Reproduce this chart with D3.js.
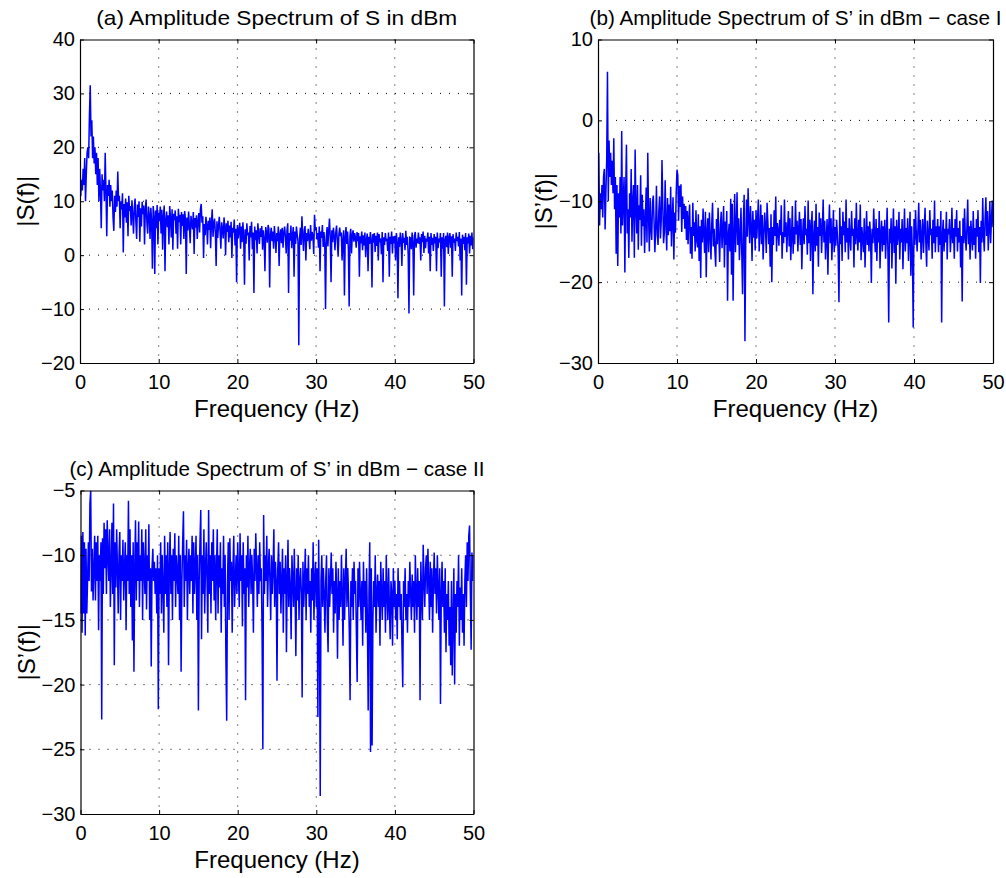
<!DOCTYPE html>
<html>
<head>
<meta charset="utf-8">
<script src="https://cdn.jsdelivr.net/npm/d3@7"></script>
<style>
  body { margin: 0; background: #fff; }
  text { font-family: "Liberation Sans", Arial, Helvetica, sans-serif; fill: #000; }
</style>
</head>
<body>
<svg id="chart" width="1006" height="878"></svg>
<script>
// spectrum bins, 0.1 Hz apart, 0..50 Hz
var binStep = 0.1;
var xTicks = [0, 10, 20, 30, 40, 50];
var yTicksA = [-20, -10, 0, 10, 20, 30, 40];
var yTicksB = [-30, -20, -10, 0, 10];
var yTicksC = [-30, -25, -20, -15, -10, -5];

// (a) |S(f)| in dBm
var specA = [
  17,11,14,12,16,13,18,10,15,19,
  20,18,26,31.5,22,25,18,22,17,20,
  15,19,13,18,10,16,12,5,15,12,
  14,10,19,12,3.5,13,11,14,9,13,
  10,12,7,4.5,11,8,12,9,15.5,10,
  11,5,10,8.5,11.5,0.5,9.5,7,10.5,6,
  9.8,3.5,11,8.2,9.1,5.5,10.2,7.3,4,8.8,
  10.5,6.2,3,9.4,7.1,10,2.5,8.7,5.3,9.9,
  7.6,9.2,2,8.4,10.3,6.1,4,9,7.5,3,
  8.8,6.4,-2.5,9.1,7.2,-3.5,8.3,5,9.3,2,
  7.9,6.3,9,4,8.4,1,7.1,9.2,-3,6.6,
  8.1,5.2,7.4,2,9.1,6.8,3.3,8.5,1,7.7,
  6.5,8.3,4,7.2,1.2,8.6,6.1,7.5,2,8,
  5.4,7.6,3,8.2,6.7,-3.5,7,4.6,8.1,5.5,
  2.2,7.3,6,4.8,8,0.2,6.9,5.1,7.4,3,
  6.3,7.8,4.2,8.5,9.5,6,7.2,-0.5,5.8,3.7,
  7.1,5.6,2,6.4,4.7,7,1.3,6.1,8.5,3.4,
  5.9,6.8,4.1,-2,6.3,3.2,5.5,7.1,4.4,1.2,
  6.1,4.8,3.1,7,5.2,0,5.9,4.3,6.4,2.4,
  5.5,3.3,6.2,-0.5,5.1,4.2,6.6,1.8,4.9,-5,
  5.6,3.1,4.7,6,1.2,5.3,2.4,6.1,3.6,-5.5,
  4.8,2.1,5.9,3.7,4.2,-1,5.4,3.3,6.2,1.1,
  4.2,-7,5.3,2.8,4.6,0.3,5.9,3.9,2.1,5,
  3.4,5.4,1,4.6,3.1,-3,5.2,4.2,2.3,5.6,
  4.9,-6,3.8,5.1,2.6,4.4,1.2,5.4,3.5,0.4,
  4.1,2.6,5.3,-2,3.9,4.8,2.2,5.1,1.4,4.2,
  5.3,3.4,0.3,4.5,5.9,-7,4.1,2.7,5.5,1.3,
  3.6,5.2,-4,4.4,2.1,5.3,3.8,2.5,-16.7,3.1,
  5.1,1.9,7.2,3.6,0.8,4.7,5.4,-1,4.1,2.6,
  4.9,3.2,1.1,5.6,2.7,4.3,3.5,0.2,7.5,4.6,
  5.2,2.9,4.1,1.4,5.3,-3,4.4,3.2,5.6,1.5,
  4.3,2.1,-10,3.4,5.2,1.6,4.5,6.8,3.3,-5,
  4.6,2.4,5.1,3.6,0.9,4.2,5.5,2.7,-0.3,3.9,
  5.1,3.5,4.2,-1,2.8,4.6,-7.5,3.3,5.2,2.1,
  4.4,1.2,-9.5,3.6,4.9,0.3,3.8,4.6,2.5,4.1,
  3.2,1.4,4.3,2.6,4.1,-4,3.5,2.2,4.4,0.9,
  3.7,1.8,4.2,-0.4,2.9,4,-3,3.4,2.1,4.3,
  2.8,-6,3.9,2.3,4.1,0.6,3.6,1.7,4.2,-1,
  3.9,2.4,3.1,0.2,4.3,-5,3.3,1.9,4.1,2.6,
  3.1,0.8,4.2,-4,3.4,2.1,4.4,0.3,3.5,2.2,
  3.6,-1,4.1,2.4,-8,3.3,1.5,4.2,2.8,-2,
  4.1,2.3,3.2,0.9,4.5,1.9,3.4,0.2,-10.8,3.3,
  3.2,1.1,4.2,2.5,-7.5,3.6,4.3,1.4,3.1,2.2,
  4.2,2.1,3.3,-1,3.9,2.4,4.4,0.4,3.6,1.3,
  3.1,2.5,4.2,0.3,3.4,-3,4.1,1.9,3.2,0.8,
  3.9,2.2,3.4,-3,4.2,1.3,3.1,2.4,4.1,-4,
  3.3,1.2,4.1,-9.5,2.9,3.6,1.5,4.2,0.2,3.3,
  4.1,1.4,3.5,-4,3.9,2.3,3.1,0.8,4.2,2.6,
  3.4,1.6,4.3,-1,3.1,-7.5,3.8,2.1,3.4,0.9,
  4.1,-5.5,3.3,2.2,4,0.3,3.6,1.8,4.2,1.1,
  3.3
];

// (b) |S'(f)| case I
var specB = [
  -15,-4,-13,-9,-11,-8,-12,-7,-6,-13.5,
  -9,-5,6,-10,-2.5,-7,-4,-8,-5,-9,
  -2.2,-11,-7,-16.5,-8,-18,-9,-12,-7,-14,
  -1.3,-13,-10,-7,-18.8,-9,-3,-14,-11,-17,
  -9,-12,-6,-15,-10,-8,-17,-3.6,-11,-14,
  -8,-16,-10.5,-12.3,-6.8,-15.5,-9.2,-13.1,-11,-16.4,
  -12.2,-8.3,-15.1,-4,-11.8,-16.2,-9.6,-13.4,-14.8,-10.1,
  -9.3,-12.7,-16.3,-13.2,-8.1,-14.1,-15.4,-11.2,-9.4,-14.6,
  -12.5,-4.9,-10.3,-15.2,-13.8,-7.4,-12.9,-16.1,-9.6,-14.2,
  -10.4,-13.7,-8.2,-15.6,-12.1,-9.5,-17.2,-11.4,-13.9,-8.9,
  -6.1,-6.8,-12.4,-8.1,-10.7,-7.9,-13.8,-9.4,-12.2,-10.3,
  -13.4,-10.6,-14.8,-11.2,-15.3,-12.1,-10.4,-16.5,-13.2,-17.1,
  -10.2,-14.3,-12.6,-16.2,-11.1,-14.8,-15.7,-11.6,-17.4,-13.1,
  -19.5,-12.3,-15.1,-10.9,-14.2,-16.4,-11.3,-19.4,-13.8,-12.1,
  -16.3,-11.4,-14.1,-17.2,-12.8,-10.2,-15.6,-13.4,-16.2,-18.1,
  -12.2,-15.3,-10.8,-14.4,-17.5,-12.9,-11.3,-15.8,-13.5,-10.6,
  -18.2,-12.5,-15.4,-11.2,-22.3,-14.1,-12.8,-16.2,-9.7,-19.1,
  -10.3,-22.3,-14.4,-9.1,-16.3,-13.2,-8.9,-15.4,-12.1,-17.3,
  -14.2,-10.8,-16.5,-21.5,-12.7,-9.2,-27.3,-15.1,-9.8,-14.4,
  -8.4,-12.3,-15.2,-10.6,-13.1,-17.4,-11.2,-14.5,-12.3,-16.1,
  -11.1,-14.6,-12.2,-9.8,-16.2,-13.5,-10.4,-15.3,-11.7,-17.2,
  -14.1,-11.4,-13.2,-16.4,-10.2,-12.5,-15.3,-13.3,-18.1,-11.6,
  -20,-13.2,-15.4,-11.1,-14.3,-9.4,-16.2,-12.7,-13.6,-15.5,
  -12.3,-14.2,-10.5,-17.1,-13.8,-15.2,-9.8,-14.4,-12.6,-16.3,
  -13.4,-11.2,-15.6,-12.1,-17.3,-14.4,-10.6,-16.5,-13.2,-15.3,
  -9.9,-14.1,-12.4,-16.2,-13.5,-11.3,-15.4,-12.2,-18.4,-14.3,
  -12.1,-15.3,-10.6,-14.2,-13.4,-16.6,-9.9,-15.2,-12.3,-17.4,
  -13.1,-11.2,-21.5,-14.3,-12.4,-16.2,-10.3,-15.5,-13.2,-18.1,
  -11.4,-14.3,-12.1,-16.4,-13.6,-9.8,-15.1,-12.4,-17.2,-14.5,
  -12.2,-19.1,-13.4,-10.4,-15.2,-12.1,-17.3,-14.2,-11.1,-16.3,
  -13.2,-15.5,-12.3,-14.1,-16.2,-22.5,-10.8,-15.3,-13.1,-17.4,
  -11.3,-14.2,-12.5,-16.3,-9.8,-15.1,-13.3,-17.2,-12.1,-14.4,
  -16.1,-11.2,-14.3,-13.4,-18.2,-12.1,-15.3,-10.2,-14.4,-16.1,
  -12.3,-15.1,-10.4,-17.3,-13.2,-14.5,-16.3,-12.1,-18.2,-14.4,
  -11.2,-15.4,-13.1,-16.2,-12.5,-14.3,-20.1,-13.4,-15.2,-10.9,
  -14.1,-16.3,-12.2,-17.4,-13.3,-15.1,-11.2,-18.3,-14.1,-12.4,
  -16.2,-13.1,-15.4,-12.3,-17.1,-14.2,-10.8,-16.3,-25,-13.4,
  -15.2,-12.1,-18.3,-14.2,-10.9,-16.4,-13.1,-20.2,-12.3,-15.4,
  -14.2,-11.3,-17.2,-13.4,-15.1,-12.2,-18.4,-14.3,-10.9,-16.2,
  -13.3,-15.2,-12.1,-17.4,-14.2,-11.3,-19.2,-13.1,-16.4,-25.6,
  -12.2,-15.4,-11.1,-14.3,-16.2,-13.4,-10.2,-15.1,-12.3,-17.2,
  -14.1,-12.2,-16.4,-13.3,-10.8,-15.2,-18.1,-12.4,-14.3,-16.1,
  -11.1,-14.2,-13.4,-17.1,-12.3,-15.2,-9.9,-16.3,-13.1,-14.4,
  -12.2,-16.3,-13.1,-15.4,-11.2,-25,-14.1,-12.3,-16.2,-13.4,
  -15.1,-11.3,-17.2,-13.4,-14.1,-12.2,-16.3,-14.4,-10.8,-15.2,
  -13.3,-17.1,-12.2,-14.4,-11.1,-16.2,-13.3,-15.1,-12.4,-18.2,
  -14.3,-22.4,-12.1,-15.2,-10.9,-14.4,-16.1,-13.2,-9.8,-15.3,
  -13.1,-17.2,-12.4,-14.3,-16.1,-11.2,-15.4,-13.3,-17.1,-12.2,
  -14.4,-11.1,-16.3,-13.2,-20.1,-12.4,-15.1,-9.6,-14.3,-16.2,
  -12.1,-9.5,-14.3,-11.2,-16.1,-13.4,-10.1,-15.2,-12.3,-9.9,
  -13.2
];

// (c) |S'(f)| case II
var specC = [
  -14.5,-8.5,-16,-8.2,-14.5,-9,-16.2,-9.5,-14.5,-12,
  -9,-12,-6,-5,-12.8,-9.5,-13.5,-11,-8.5,-13.5,
  -9,-12,-8.5,-15.8,-10,-12,-9,-22.7,-8.7,-13,
  -7.5,-11,-8,-13,-7.3,-10,-12,-8,-14,-11,
  -7.5,-13,-6,-18.5,-9,-12.5,-8,-11,-14.5,-10,
  -8.2,-15,-10,-12,-8.8,-13.5,-11,-9,-15.8,-10,
  -12,-5.8,-13,-8,-14,-10,-16.6,-9,-19,-11,
  -7.3,-13.5,-9,-12,-7.4,-14,-10,-12,-8,-15,
  -9,-11,-13,-8,-14.2,-10,-12,-7.6,-15,-11,
  -18.6,-11,-9.5,-12,-10.5,-13,-11,-14.5,-10,-21.9,
  -11,-13,-9,-14.5,-10,-12.5,-16,-8.5,-13,-10,
  -14,-9,-18.5,-11,-8.2,-13,-10,-15,-9.5,-12,
  -8.3,-14,-10,-11.5,-13,-8.5,-15,-10,-19,-12,
  -9,-6.6,-14,-10,-12,-8.8,-15,-11,-9.5,-13,
  -10,-12,-8.5,-14.5,-9,-13,-11,-8.5,-15,-10,
  -22,-12,-9,-6.5,-16.5,-10,-13,-8,-14.5,-11,
  -9,-12,-16,-6.5,-13,-10,-14.5,-9,-12,-8,
  -13.5,-10,-15,-11,-8,-14.5,-10,-12.5,-9,-16,
  -11,-13,-8.5,-14,-10,-18,-22.8,-12,-9,-15,
  -8.7,-12,-10.5,-16,-11,-8.5,-14,-12,-10,-13,
  -9,-11.5,-14,-8.3,-12,-10,-15.5,-9,-13,-11,
  -21.2,-10,-12.5,-8.5,-14,-11,-9.5,-13,-10,-12,
  -16,-9.5,-12,-8.3,-11,-14,-10,-13,-9,-12,
  -11,-16,-25,-6.9,-13,-10,-12,-8.5,-14,-11,
  -9.5,-12,-15,-10,-13,-11,-8,-14,-10.5,-12,
  -19.7,-11,-9,-13,-10.5,-14.5,-12,-9.5,-16,-11,
  -13,-10,-17.5,-12,-8.8,-14,-11,-12.5,-16.5,-10,
  -12,-14,-9.5,-13,-17.8,-11,-13.5,-10,-15,-12,
  -11,-13,-21,-10.5,-14,-12,-9.5,-15,-11,-13,
  -10,-14,-12,-16,-11,-13.5,-9,-15,-12,-10.5,
  -14,-11,-22.5,-8.8,-15,-28.6,-12,-10,-14,-11,
  -13,-16,-12,-10,-15,-17.5,-11,-14,-12,-9.8,
  -13,-11,-16,-12,-14.5,-10.5,-13,-18,-11,-15,
  -12,-14,-10,-13,-17,-11,-15,-12,-9.5,-14,
  -11,-13,-16,-21.2,-12,-14,-11,-15,-10.5,-13,
  -12,-16,-19.8,-11,-14,-10.5,-13,-15,-12,-17,
  -10.5,-14,-12,-16,-11,-15,-22,-13,-9,-25.2,
  -11,-24.7,-15,-12,-14,-10,-16,-13,-11.5,-14,
  -12,-17,-10.5,-13,-15,-11,-14,-12,-16,-10,
  -13,-15,-11,-14,-16.5,-12,-13,-17,-11,-14,
  -12,-15,-13,-16.5,-11,-14,-12,-15,-13,-17,
  -20.2,-12,-14,-11,-15,-13,-16,-12,-14,-10.5,
  -13,-15,-11.5,-14,-12,-16,-10,-13,-15,-11,
  -14,-12,-21.2,-10.5,-13,-15,-9.2,-12,-14,-11,
  -10,-13,-9.5,-12,-15,-10.5,-14,-11,-16,-12,
  -9.8,-13,-11,-14.5,-10,-12.5,-15,-11,-21.5,-13,
  -10.5,-14,-12,-16,-11,-17.5,-13,-15,-12,-17,
  -14,-18.5,-12,-19.3,-15,-11,-20,-13,-16,-12,
  -14,-10,-17,-12.5,-15,-11,-16,-13,-17,-12,
  -10,-14,-9,-12,-8.5,-7.7,-13,-17.3,-9.8,-12,
  -10
];

var svg = d3.select("#chart");

var panels = [
  {id: "a", title: "(a) Amplitude Spectrum of S in dBm", ylabel: "|S(f)|", titleWidth: 361,
   values: specA, yTicks: yTicksA, left: 80, top: 39.5, w: 393.5, h: 323.5},
  {id: "b", title: "(b) Amplitude Spectrum of S\u2019 in dBm \u2212 case I", ylabel: "|S\u2019(f)|", titleWidth: 412,
   values: specB, yTicks: yTicksB, left: 598, top: 39.5, w: 395, h: 323.5},
  {id: "c", title: "(c) Amplitude Spectrum of S\u2019 in dBm \u2212 case II", ylabel: "|S\u2019(f)|", titleWidth: 415,
   values: specC, yTicks: yTicksC, left: 80.5, top: 490.5, w: 393, h: 323.5}
];

panels.forEach(drawPanel);

function drawPanel(p) {
  var g = svg.append("g").attr("transform", "translate(" + p.left + "," + p.top + ")");

  var x = d3.scaleLinear().domain([0, 50]).range([0, p.w]);
  var y = d3.scaleLinear().domain(d3.extent(p.yTicks)).range([p.h, 0]);

  // dotted grid
  var grid = g.append("g")
    .attr("stroke", "#000")
    .attr("stroke-width", 1)
    .attr("stroke-dasharray", "1,8");
  grid.selectAll(".gx").data(xTicks.slice(1, -1)).join("line")
    .attr("x1", d => x(d)).attr("x2", d => x(d))
    .attr("y1", 0).attr("y2", p.h);
  grid.selectAll(".gy").data(p.yTicks.slice(1, -1)).join("line")
    .attr("x1", 0).attr("x2", p.w)
    .attr("y1", d => y(d)).attr("y2", d => y(d));

  // spectrum
  g.append("clipPath").attr("id", "clip-" + p.id)
    .append("rect").attr("width", p.w).attr("height", p.h);

  var line = d3.line()
    .x((d, i) => x(i * binStep))
    .y(d => y(d));

  g.append("path")
    .datum(p.values)
    .attr("clip-path", "url(#clip-" + p.id + ")")
    .attr("fill", "none")
    .attr("stroke", "#0000ff")
    .attr("stroke-width", 1.5)
    .attr("stroke-linejoin", "miter")
    .attr("d", line);

  // axes, ticks pointing inward on all four sides
  var bottom = g.append("g").attr("transform", "translate(0," + p.h + ")")
    .call(d3.axisBottom(x).tickValues(xTicks).tickSize(-4).tickSizeOuter(0).tickPadding(12));
  var leftAx = g.append("g")
    .call(d3.axisLeft(y).tickValues(p.yTicks).tickSize(-4).tickSizeOuter(0).tickPadding(5));
  g.append("g")
    .call(d3.axisTop(x).tickValues(xTicks).tickSize(-4).tickSizeOuter(0).tickFormat(""));
  g.append("g").attr("transform", "translate(" + p.w + ",0)")
    .call(d3.axisRight(y).tickValues(p.yTicks).tickSize(-4).tickSizeOuter(0).tickFormat(""));

  g.selectAll(".domain").attr("stroke", "#000").attr("stroke-width", 1.2);
  g.selectAll(".tick line").attr("stroke", "#000");
  bottom.selectAll("text").attr("font-size", 20);
  leftAx.selectAll("text").attr("font-size", 20);
  g.selectAll(".tick text").attr("font-family", null).attr("fill", "#000");

  // labels
  g.append("text")
    .attr("x", p.w / 2).attr("y", -15)
    .attr("text-anchor", "middle")
    .attr("font-size", 21)
    .attr("textLength", p.titleWidth)
    .attr("lengthAdjust", "spacingAndGlyphs")
    .text(p.title);

  g.append("text")
    .attr("x", p.w / 2).attr("y", p.h + 54)
    .attr("text-anchor", "middle")
    .attr("font-size", 24)
    .text("Frequency (Hz)");

  g.append("text")
    .attr("transform", "translate(-46," + (p.h / 2) + ") rotate(-90)")
    .attr("text-anchor", "middle")
    .attr("font-size", 24)
    .text(p.ylabel);
}
</script>
</body>
</html>
